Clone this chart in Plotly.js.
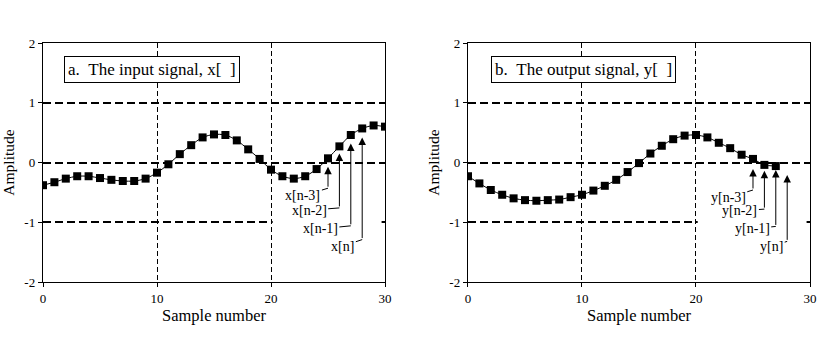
<!DOCTYPE html>
<html>
<head>
<meta charset="utf-8">
<script src="https://cdn.plot.ly/plotly-3.0.1.min.js"></script>
<style>html,body{margin:0;padding:0;background:#fff;}#chart{width:821px;height:338px;}</style>
</head>
<body>
<div id="chart"></div>
<script>
// Data
const sampleIndexX = Array.from({length: 31}, (_, i) => i);
const inputSignal = [-0.38,-0.33,-0.27,-0.23,-0.23,-0.26,-0.29,-0.31,-0.31,-0.27,-0.17,-0.03,0.14,0.29,0.42,0.47,0.46,0.37,0.22,0.06,-0.12,-0.23,-0.27,-0.23,-0.11,0.07,0.27,0.46,0.57,0.62,0.60];
const sampleIndexY = Array.from({length: 28}, (_, i) => i);
const outputSignal = [-0.23,-0.35,-0.46,-0.54,-0.60,-0.63,-0.64,-0.63,-0.62,-0.58,-0.54,-0.47,-0.39,-0.29,-0.16,-0.01,0.15,0.28,0.39,0.45,0.46,0.42,0.33,0.24,0.13,0.06,-0.04,-0.06];

const xLabels = ['x[n-3]','x[n-2]','x[n-1]','x[n]'];
const yLabels = ['y[n-3]','y[n-2]','y[n-1]','y[n]'];
const arrowSampleX = [25,26,27,28];
const xArrowTip = [-0.07,0.15,0.32,0.42];
const xArrowBase = [-0.43,-0.76,-1.06,-1.29];
const xLabelX = [22.8,23.35,24.33,26.3];
const xLabelY = [-0.56,-0.80,-1.11,-1.40];
const yArrowTip = [-0.11,-0.14,-0.125,-0.21];
const yArrowBase = [-0.46,-0.78,-1.07,-1.32];
const yLabelX = [22.83,23.85,24.93,26.64];
const yLabelY = [-0.59,-0.81,-1.11,-1.40];

const yTicks = [-2,-1,0,1,2];
const xTicks = [0,10,20,30];

const serif = 'Liberation Serif, Times New Roman, serif';

const traceStyle = {
  mode: 'lines+markers',
  line: {color: '#000', width: 1, shape: 'spline', smoothing: 0.8},
  marker: {symbol: 'square', size: 8, color: '#000'},
  hoverinfo: 'skip', showlegend: false
};

const data = [
  Object.assign({x: sampleIndexX, y: inputSignal, xaxis: 'x', yaxis: 'y'}, traceStyle),
  Object.assign({x: sampleIndexY, y: outputSignal, xaxis: 'x2', yaxis: 'y2'}, traceStyle)
];

function xAxis(domain, anchor) {
  return {
    domain: domain, anchor: anchor, range: [0, 30], tickvals: xTicks, ticktext: xTicks.map(String),
    showline: true, mirror: true, linecolor: '#000', linewidth: 1.2,
    ticks: 'outside', ticklen: 4, tickcolor: '#000', tickwidth: 1,
    showgrid: true, gridcolor: '#000', gridwidth: 1, griddash: '5px,3px',
    zeroline: false, tickfont: {family: serif, size: 13, color: '#000'},
    title: {text: 'Sample number', font: {family: serif, size: 16.5, color: '#000'}, standoff: 2}
  };
}
function yAxis(anchor) {
  return {
    anchor: anchor, range: [-2, 2], tickvals: yTicks, ticktext: yTicks.map(String),
    showline: true, mirror: true, linecolor: '#000', linewidth: 1.2,
    ticks: 'outside', ticklen: 4, tickcolor: '#000', tickwidth: 1,
    showgrid: true, gridcolor: '#000', gridwidth: 2, griddash: '8px,4px',
    zeroline: false, tickfont: {family: serif, size: 13, color: '#000'},
    title: {text: 'Amplitude', font: {family: serif, size: 15.5, color: '#000'}, standoff: 6}
  };
}

const annotations = [];
function addPanel(labels, tips, bases, lx, ly, xr, yr) {
  for (let i = 0; i < labels.length; i++) {
    annotations.push({
      xref: xr, yref: yr, axref: xr, ayref: yr,
      x: arrowSampleX[i], y: tips[i], ax: arrowSampleX[i], ay: bases[i],
      text: '', showarrow: true, arrowhead: 2, arrowsize: 1.5, arrowwidth: 1, arrowcolor: '#000'
    });
    annotations.push({
      xref: xr, yref: yr, axref: xr, ayref: yr,
      x: arrowSampleX[i], y: bases[i], ax: lx[i], ay: ly[i],
      text: labels[i], showarrow: true, arrowhead: 0, arrowwidth: 1, arrowcolor: '#000',
      standoff: 0, startstandoff: 0,
      font: {family: serif, size: 14, color: '#000'}
    });
  }
}
addPanel(xLabels, xArrowTip, xArrowBase, xLabelX, xLabelY, 'x', 'y');
addPanel(yLabels, yArrowTip, yArrowBase, yLabelX, yLabelY, 'x2', 'y2');

annotations.push({
  xref: 'x', yref: 'y', x: 9.58, y: 1.55, showarrow: false,
  text: 'a.\u00a0\u00a0The input signal, x[\u00a0\u00a0]',
  font: {family: serif, size: 17, color: '#000'},
  bordercolor: '#000', borderwidth: 1, borderpad: 3, bgcolor: '#fff'
});
annotations.push({
  xref: 'x2', yref: 'y2', x: 10.1, y: 1.55, showarrow: false,
  text: 'b.\u00a0\u00a0The output signal, y[\u00a0\u00a0]',
  font: {family: serif, size: 17, color: '#000'},
  bordercolor: '#000', borderwidth: 1, borderpad: 3, bgcolor: '#fff'
});

const shapes = [
  {type: 'rect', xref: 'x', yref: 'y', x0: 20.15, x1: 29.7, y0: -1.06, y1: -0.94, fillcolor: '#fff', line: {width: 0}, layer: 'between'},
  {type: 'rect', xref: 'x2', yref: 'y2', x0: 20.15, x1: 29.7, y0: -1.06, y1: -0.94, fillcolor: '#fff', line: {width: 0}, layer: 'between'}
];

const layout = {
  width: 821, height: 338,
  margin: {l: 43, r: 11, t: 43, b: 56},
  paper_bgcolor: '#fff', plot_bgcolor: '#fff',
  xaxis: xAxis([0, 0.4459], 'y'),
  yaxis: yAxis('x'),
  xaxis2: xAxis([0.5541, 1], 'y2'),
  yaxis2: yAxis('x2'),
  annotations: annotations,
  shapes: shapes,
  font: {family: serif, color: '#000'}
};

Plotly.newPlot('chart', data, layout, {staticPlot: true, displayModeBar: false});
</script>
</body>
</html>
